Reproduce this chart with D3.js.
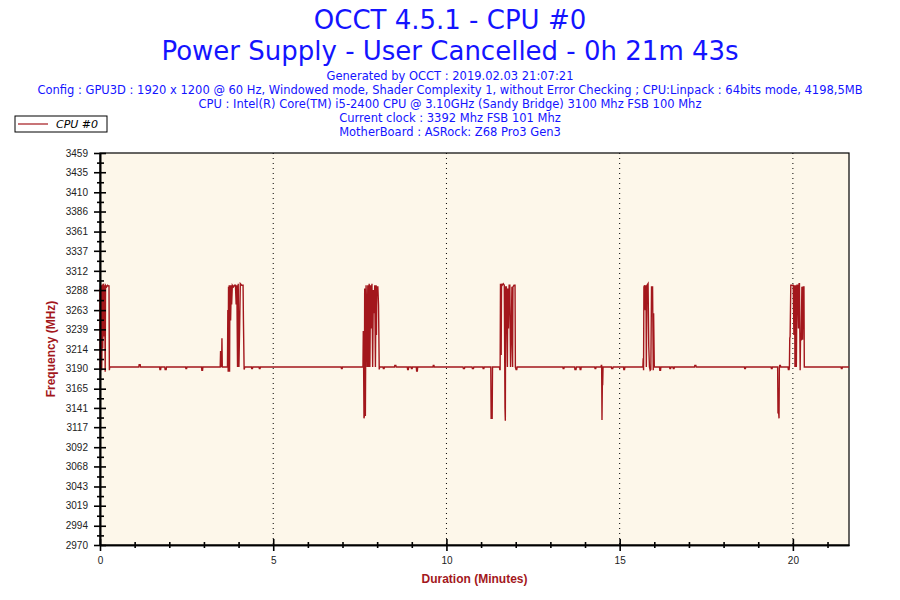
<!DOCTYPE html>
<html>
<head>
  <meta charset="UTF-8">
  <title>OCCT CPU #0</title>
  <script src="https://d3js.org/d3.v7.min.js"></script>
  <style>
    body {
      margin: 0;
      background: #fff;
    }
    .title {
      font-family: "DejaVu Sans", sans-serif;
      fill: #1414ff;
    }
    .info {
      font-family: "DejaVu Sans", sans-serif;
      font-size: 11.5px;
      fill: #1414ff;
    }
    .axis text {
      font-family: "Liberation Sans", Arial, sans-serif;
      font-size: 10px;
      fill: #222;
    }
    .axis path, .axis line {
      stroke: #000;
      stroke-width: 1.6;
    }
    .axis-title {
      font-family: "Liberation Sans", Arial, sans-serif;
      font-size: 12px;
      font-weight: bold;
      fill: #a3171c;
    }
  </style>
</head>
<body>
  <svg id="chart" width="900" height="600"></svg>
  <script>
    const titleLines = ["OCCT 4.5.1 - CPU #0", "Power Supply - User Cancelled - 0h 21m 43s"];
    const infoLines = [
      "Generated by OCCT : 2019.02.03 21:07:21",
      "Config : GPU3D : 1920 x 1200 @ 60 Hz, Windowed mode, Shader Complexity 1, without Error Checking ; CPU:Linpack : 64bits mode, 4198,5MB",
      "CPU : Intel(R) Core(TM) i5-2400 CPU @ 3.10GHz (Sandy Bridge) 3100 Mhz FSB 100 Mhz",
      "Current clock : 3392 Mhz FSB 101 Mhz",
      "MotherBoard : ASRock: Z68 Pro3 Gen3"
    ];
    const seriesName = "CPU #0";

    const yTickLabels = [2970, 2994, 3019, 3043, 3068, 3092, 3117, 3141, 3165, 3190, 3214,
      3239, 3263, 3288, 3312, 3337, 3361, 3386, 3410, 3435, 3459];
    const xMajorTicks = [0, 5, 10, 15, 20];
    const xMinorTicks = [1, 2, 3, 4, 6, 7, 8, 9, 11, 12, 13, 14, 16, 17, 18, 19, 21];
    const durationMinutes = 21.62;

    // [minute, MHz]
    const samples = [
      [0.00, 3290], [0.01, 3188], [0.02, 3294], [0.03, 3215], [0.04, 3294], [0.05, 3188], [0.06, 3230],
      [0.07, 3295], [0.08, 3215], [0.09, 3294], [0.10, 3296], [0.11, 3250], [0.12, 3230], [0.13, 3294],
      [0.14, 3250], [0.15, 3186], [0.16, 3294], [0.19, 3292], [0.22, 3294], [0.25, 3293], [0.26, 3294],
      [0.27, 3188], [0.28, 3192],
      [1.12, 3192], [1.13, 3195], [1.16, 3195], [1.17, 3192],
      [1.72, 3192], [1.73, 3189], [1.75, 3189], [1.76, 3192],
      [1.87, 3192], [1.88, 3189], [1.91, 3189], [1.92, 3192],
      [2.47, 3192], [2.48, 3190], [2.50, 3190], [2.51, 3192],
      [2.93, 3192], [2.94, 3188], [2.96, 3188], [2.97, 3192],
      [3.47, 3192], [3.48, 3211], [3.50, 3211], [3.51, 3192], [3.52, 3228], [3.53, 3192], [3.68, 3192],
      [3.69, 3263], [3.70, 3186], [3.71, 3292], [3.72, 3188], [3.73, 3294], [3.74, 3186], [3.75, 3294],
      [3.77, 3250], [3.79, 3294], [3.80, 3270], [3.82, 3294], [3.85, 3292], [3.88, 3294], [3.91, 3294],
      [3.93, 3270], [3.95, 3294], [3.97, 3192], [3.99, 3296], [4.01, 3192], [4.03, 3240], [4.05, 3296],
      [4.09, 3294], [4.13, 3294], [4.14, 3251], [4.16, 3189], [4.18, 3192],
      [4.37, 3192], [4.38, 3190], [4.40, 3190], [4.41, 3192],
      [4.59, 3192], [4.60, 3190], [4.62, 3190], [4.63, 3192],
      [6.96, 3192], [6.97, 3190], [6.99, 3190], [7.00, 3192],
      [7.59, 3192], [7.60, 3237], [7.61, 3190], [7.62, 3128], [7.63, 3131], [7.64, 3290], [7.66, 3131],
      [7.68, 3294], [7.70, 3259], [7.71, 3192], [7.73, 3294], [7.75, 3192], [7.77, 3296], [7.79, 3192],
      [7.81, 3294], [7.83, 3240], [7.85, 3296], [7.87, 3192], [7.89, 3288], [7.91, 3259], [7.93, 3294],
      [7.95, 3192], [7.97, 3294], [7.98, 3232], [7.99, 3292], [8.02, 3292], [8.04, 3269], [8.06, 3189],
      [8.07, 3192],
      [8.17, 3192], [8.18, 3190], [8.20, 3190], [8.21, 3192],
      [8.50, 3192], [8.51, 3194], [8.54, 3194], [8.55, 3192],
      [8.87, 3192], [8.88, 3189], [8.90, 3189], [8.91, 3192],
      [8.98, 3192], [8.99, 3190], [9.01, 3190], [9.02, 3192],
      [9.13, 3192], [9.14, 3187], [9.16, 3187], [9.17, 3192],
      [9.61, 3192], [9.62, 3194], [9.64, 3194], [9.65, 3192],
      [10.48, 3192], [10.49, 3190], [10.52, 3190], [10.53, 3192],
      [10.74, 3192], [10.75, 3190], [10.78, 3190], [10.79, 3192],
      [11.05, 3192], [11.06, 3190], [11.08, 3190], [11.09, 3192],
      [11.28, 3192], [11.29, 3128], [11.32, 3128], [11.33, 3192],
      [11.53, 3192], [11.54, 3189], [11.55, 3189], [11.56, 3296], [11.58, 3207], [11.59, 3296], [11.61, 3294],
      [11.64, 3296], [11.67, 3294], [11.69, 3141], [11.70, 3125], [11.71, 3292], [11.73, 3292], [11.76, 3192],
      [11.77, 3290], [11.79, 3240], [11.81, 3294], [11.83, 3294], [11.85, 3192], [11.87, 3232], [11.89, 3292],
      [11.91, 3192], [11.92, 3292], [11.95, 3294], [11.98, 3294], [11.99, 3192], [12.01, 3189], [12.03, 3189],
      [12.04, 3192],
      [13.36, 3192], [13.37, 3190], [13.39, 3190], [13.40, 3192],
      [13.70, 3192], [13.71, 3189], [13.74, 3189], [13.75, 3192],
      [13.85, 3192], [13.86, 3189], [13.88, 3189], [13.89, 3192],
      [14.28, 3192], [14.29, 3190], [14.31, 3190], [14.32, 3192],
      [14.46, 3192], [14.47, 3194], [14.48, 3194], [14.49, 3126], [14.50, 3170], [14.51, 3170], [14.52, 3192],
      [14.76, 3192], [14.77, 3190], [14.80, 3190], [14.81, 3192],
      [15.11, 3192], [15.12, 3189], [15.14, 3189], [15.15, 3192],
      [15.67, 3192], [15.68, 3203], [15.69, 3188], [15.70, 3292], [15.72, 3294], [15.74, 3263], [15.76, 3294],
      [15.77, 3192], [15.79, 3294], [15.82, 3296], [15.84, 3218], [15.86, 3192], [15.88, 3188], [15.90, 3189],
      [15.92, 3292], [15.95, 3292], [15.97, 3188], [15.98, 3259], [16.00, 3192],
      [16.15, 3192], [16.16, 3188], [16.18, 3188], [16.19, 3192],
      [16.44, 3192], [16.45, 3190], [16.47, 3190], [16.48, 3192],
      [16.54, 3192], [16.55, 3190], [16.57, 3190], [16.58, 3192],
      [17.16, 3192], [17.17, 3194], [17.20, 3194], [17.21, 3192],
      [18.60, 3192], [18.61, 3190], [18.63, 3190], [18.64, 3192],
      [19.37, 3192], [19.38, 3190], [19.40, 3190], [19.41, 3192],
      [19.56, 3192], [19.57, 3135], [19.59, 3135], [19.60, 3128], [19.61, 3192], [19.62, 3194], [19.64, 3194],
      [19.65, 3192],
      [19.86, 3192], [19.87, 3189], [19.89, 3189], [19.90, 3192], [19.91, 3228], [19.92, 3230], [19.94, 3294],
      [19.97, 3294], [20.01, 3294], [20.03, 3232], [20.05, 3294], [20.06, 3192], [20.08, 3294], [20.10, 3192],
      [20.12, 3294], [20.14, 3294], [20.16, 3240], [20.18, 3296], [20.19, 3296], [20.21, 3188], [20.22, 3226],
      [20.24, 3226], [20.26, 3292], [20.28, 3226], [20.30, 3292], [20.32, 3292], [20.33, 3192],
      [21.39, 3192], [21.40, 3190], [21.42, 3190], [21.43, 3192],
      [21.62, 3192]
    ];

    const lineColor = "#a3171c";
    const plot = { left: 100, right: 849, top: 153, bottom: 545 };

    const svg = d3.select("#chart");

    // titles
    svg.selectAll(".title")
      .data(titleLines)
      .enter()
      .append("text")
      .attr("class", "title")
      .attr("x", 450)
      .attr("y", (d, i) => 29 + i * 31)
      .attr("text-anchor", "middle")
      .attr("font-size", "26px")
      .text(d => d);

    svg.selectAll(".info")
      .data(infoLines)
      .enter()
      .append("text")
      .attr("class", "info")
      .attr("x", 450)
      .attr("y", (d, i) => 80 + i * 14)
      .attr("text-anchor", "middle")
      .text(d => d);

    const x = d3.scaleLinear()
      .domain([0, durationMinutes])
      .range([plot.left, plot.right]);

    const y = d3.scaleLinear()
      .domain([yTickLabels[0], yTickLabels[yTickLabels.length - 1]])
      .range([plot.bottom, plot.top]);

    // plot background and frame
    svg.append("rect")
      .attr("x", plot.left)
      .attr("y", plot.top)
      .attr("width", plot.right - plot.left)
      .attr("height", plot.bottom - plot.top)
      .attr("fill", "#fdf7ea")
      .attr("stroke", "#000")
      .attr("stroke-width", 1.2);

    // dotted vertical grid
    svg.selectAll(".grid")
      .data(xMajorTicks.slice(1))
      .enter()
      .append("line")
      .attr("class", "grid")
      .attr("x1", d => x(d))
      .attr("x2", d => x(d))
      .attr("y1", plot.top)
      .attr("y2", plot.bottom)
      .attr("stroke", "#000")
      .attr("stroke-width", 1)
      .attr("stroke-dasharray", "1,4");

    // data line
    const line = d3.line()
      .x(d => x(d[0]))
      .y(d => y(d[1]));

    svg.append("path")
      .datum(samples)
      .attr("d", line)
      .attr("fill", "none")
      .attr("stroke", lineColor)
      .attr("stroke-width", 1.4);

    // y axis
    const yMinor = yTickLabels.slice(1).map((v, i) => (v + yTickLabels[i]) / 2);

    const yAxisG = svg.append("g")
      .attr("class", "axis")
      .attr("transform", `translate(${plot.left},0)`)
      .call(d3.axisLeft(y).tickValues(yTickLabels).tickFormat(d3.format("d"))
        .tickSize(6).tickPadding(6).tickSizeOuter(0));
    yAxisG.selectAll(".tick line").attr("x2", 6).attr("x1", -6);

    svg.append("g")
      .attr("class", "axis")
      .attr("transform", `translate(${plot.left},0)`)
      .call(d3.axisLeft(y).tickValues(yMinor).tickFormat("").tickSize(3).tickSizeOuter(0))
      .call(g => g.selectAll(".tick line").attr("x1", -3).attr("x2", 4));

    // x axis
    const xAxisG = svg.append("g")
      .attr("class", "axis")
      .attr("transform", `translate(0,${plot.bottom})`)
      .call(d3.axisBottom(x).tickValues(xMajorTicks).tickFormat(d3.format("d"))
        .tickSize(6).tickPadding(6).tickSizeOuter(0));
    xAxisG.selectAll(".tick line").attr("y1", -6).attr("y2", 6);

    svg.append("g")
      .attr("class", "axis")
      .attr("transform", `translate(0,${plot.bottom})`)
      .call(d3.axisBottom(x).tickValues(xMinorTicks).tickFormat("").tickSize(3).tickSizeOuter(0))
      .call(g => g.selectAll(".tick line").attr("y1", -3).attr("y2", 3));

    // axis titles
    svg.append("text")
      .attr("class", "axis-title")
      .attr("transform", `translate(55,${(plot.top + plot.bottom) / 2}) rotate(-90)`)
      .attr("text-anchor", "middle")
      .text("Frequency (MHz)");

    svg.append("text")
      .attr("class", "axis-title")
      .attr("x", (plot.left + plot.right) / 2)
      .attr("y", 583)
      .attr("text-anchor", "middle")
      .text("Duration (Minutes)");

    // legend
    const legend = svg.append("g").attr("transform", "translate(15,116)");
    legend.append("rect")
      .attr("width", 92)
      .attr("height", 16)
      .attr("fill", "#fff")
      .attr("stroke", "#000")
      .attr("stroke-width", 1);
    legend.append("line")
      .attr("x1", 3).attr("x2", 33)
      .attr("y1", 8).attr("y2", 8)
      .attr("stroke", lineColor)
      .attr("stroke-width", 1.2);
    legend.append("text")
      .attr("x", 41)
      .attr("y", 12)
      .attr("font-family", "DejaVu Sans, sans-serif")
      .attr("font-size", "11px")
      .attr("font-style", "italic")
      .attr("fill", "#000")
      .text(seriesName);
  </script>
</body>
</html>
